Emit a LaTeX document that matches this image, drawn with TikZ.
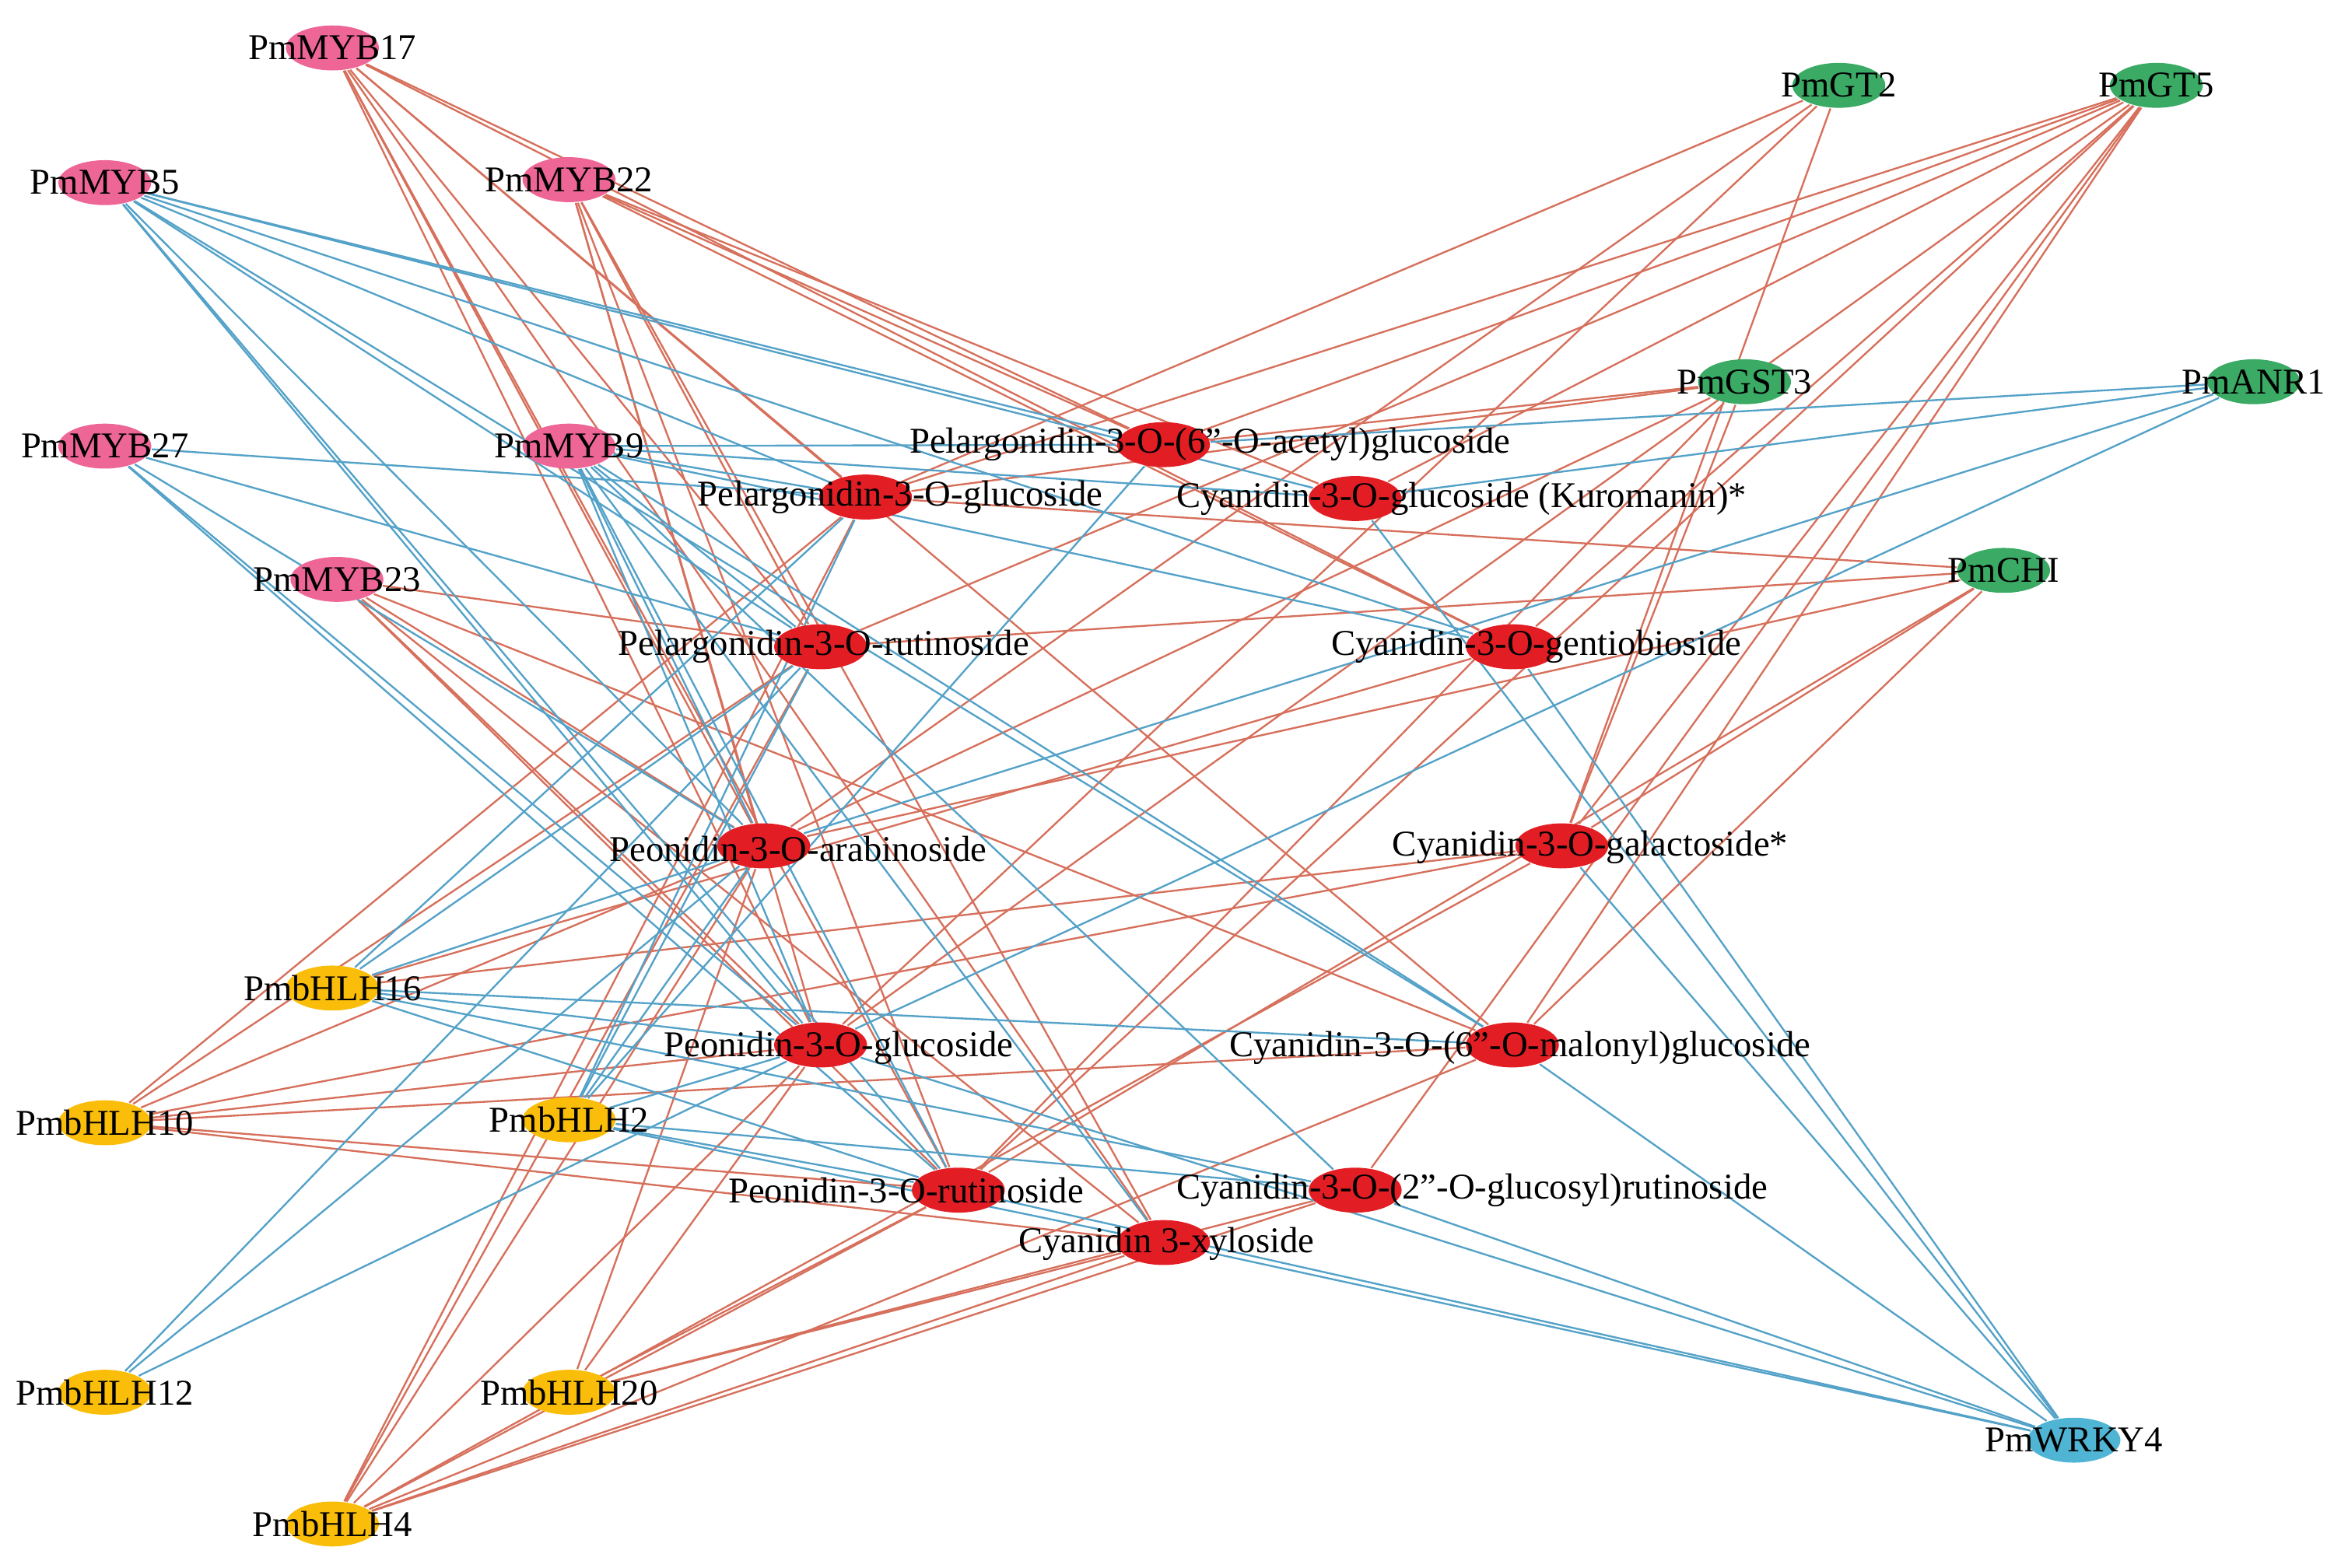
\documentclass[tikz,border=0pt]{standalone}
\usepackage{fontspec}
\setmainfont{Liberation Serif}
\usetikzlibrary{shapes.geometric,backgrounds}
\definecolor{mybpink}{RGB}{238,102,150}
\definecolor{metred}{RGB}{226,30,36}
\definecolor{genegreen}{RGB}{58,170,100}
\definecolor{bhlhyellow}{RGB}{250,190,10}
\definecolor{wrkyblue}{RGB}{80,180,212}
\definecolor{posedge}{RGB}{214,112,92}
\definecolor{negedge}{RGB}{84,162,200}

\begin{document}
\begin{tikzpicture}[x=0.01cm,y=-0.01cm,
    hub/.style={ellipse, minimum width=0.62cm, minimum height=0.3cm, inner sep=0pt},
    tf/.style={hub, fill=mybpink},
    met/.style={hub, fill=metred},
    gene/.style={hub, fill=genegreen},
    bhlh/.style={hub, fill=bhlhyellow},
    wrky/.style={hub, fill=wrkyblue},
    lbl/.style={font=\fontsize{6.9}{7}\selectfont, inner sep=0pt},
    poslink/.style={posedge, line width=0.35pt},
    neglink/.style={negedge, line width=0.35pt}
]
\useasboundingbox (0,0) rectangle (1568,1047);

% Metabolites
\node[met] (a)  at (777,297) {};
\node[met] (g)  at (578,332) {};
\node[met] (k)  at (905,333) {};
\node[met] (r)  at (548,432) {};
\node[met] (gb) at (1010,432) {};
\node[met] (ar) at (510,565) {};
\node[met] (ga) at (1043,565) {};
\node[met] (pg) at (548,698) {};
\node[met] (ma) at (1010,698) {};
\node[met] (pr) at (640,795) {};
\node[met] (gr) at (905,795) {};
\node[met] (x)  at (777,830) {};

% Regulators and genes
\node[tf] (myb17) at (222,32) {};
\node[tf] (myb5)  at (70,122) {};
\node[tf] (myb22) at (380,120) {};
\node[tf] (myb27) at (70,298) {};
\node[tf] (myb9)  at (380,298) {};
\node[tf] (myb23) at (225,387) {};
\node[gene] (gt2)  at (1228,57) {};
\node[gene] (gt5)  at (1440,57) {};
\node[gene] (gst3) at (1165,255) {};
\node[gene] (anr1) at (1505,255) {};
\node[gene] (chi)  at (1338,381) {};
\node[bhlh] (bhlh16) at (222,660) {};
\node[bhlh] (bhlh10) at (70,750) {};
\node[bhlh] (bhlh2)  at (380,748) {};
\node[bhlh] (bhlh12) at (70,930) {};
\node[bhlh] (bhlh20) at (380,930) {};
\node[bhlh] (bhlh4)  at (222,1018) {};
\node[wrky] (wrky4)  at (1385,962) {};

% Edges
\begin{scope}[on background layer]
\foreach \s/\list in {myb17/{a,g,r,ar,pg,pr,x,ma,gb},
                      myb22/{a,k,gb,r,ar,pg,pr,x},
                      myb23/{r,ar,pg,pr,ma,x},
                      gt2/{g,ar,pg,ga},
                      gt5/{a,g,k,r,gb,ga,ma,pg,pr,gr},
                      gst3/{a,g,ar,ga,pr},
                      chi/{g,r,ar,pr,ga,ma},
                      bhlh16/{ga,gb},
                      bhlh10/{g,r,ar,pg,ma,pr,x,ga},
                      bhlh20/{ar,pg,pr,x,gr},
                      bhlh4/{g,r,ar,pg,pr,x,gr,ma,ga}}
  \foreach \m in \list \draw[poslink] (\s) -- (\m);
\foreach \s/\list in {myb5/{a,g,k,r,ar,pg,gb,ma,pr},
                      myb27/{g,r,ar,pg,pr},
                      myb9/{a,g,k,r,ar,pg,pr,gr,x,ma,gb},
                      anr1/{a,k,ar,pg},
                      bhlh16/{g,r,ar,pg,pr,gr,ma},
                      bhlh2/{a,g,r,ar,pg,pr,gr,x},
                      bhlh12/{r,ar,pg},
                      wrky4/{k,gb,ga,ma,gr,x,pr,pg}}
  \foreach \m in \list \draw[neglink] (\s) -- (\m);
\end{scope}

% Labels
\node[lbl] at (808,297) {Pelargonidin-3-O-(6"-O-acetyl)glucoside};
\node[lbl] at (601,332) {Pelargonidin-3-O-glucoside};
\node[lbl] at (976,333) {Cyanidin-3-O-glucoside (Kuromanin)*};
\node[lbl] at (550,432) {Pelargonidin-3-O-rutinoside};
\node[lbl] at (1026,432) {Cyanidin-3-O-gentiobioside};
\node[lbl] at (533,567) {Peonidin-3-O-arabinoside};
\node[lbl] at (1062,566) {Cyanidin-3-O-galactoside*};
\node[lbl] at (560,700) {Peonidin-3-O-glucoside};
\node[lbl] at (1015,700) {Cyanidin-3-O-(6"-O-malonyl)glucoside};
\node[lbl] at (605,795) {Peonidin-3-O-rutinoside};
\node[lbl] at (983,795) {Cyanidin-3-O-(2"-O-glucosyl)rutinoside};
\node[lbl] at (779,831) {Cyanidin 3-xyloside};
\foreach \n/\txt in {myb17/PmMYB17,myb5/PmMYB5,myb22/PmMYB22,myb27/PmMYB27,
                   myb9/PmMYB9,myb23/PmMYB23,gt2/PmGT2,gt5/PmGT5,gst3/PmGST3,
                   anr1/PmANR1,chi/PmCHI,bhlh16/PmbHLH16,bhlh10/PmbHLH10,
                   bhlh2/PmbHLH2,bhlh12/PmbHLH12,bhlh20/PmbHLH20,bhlh4/PmbHLH4,
                   wrky4/PmWRKY4}
  \node[lbl] at (\n) {\txt};
\end{tikzpicture}
\end{document}
